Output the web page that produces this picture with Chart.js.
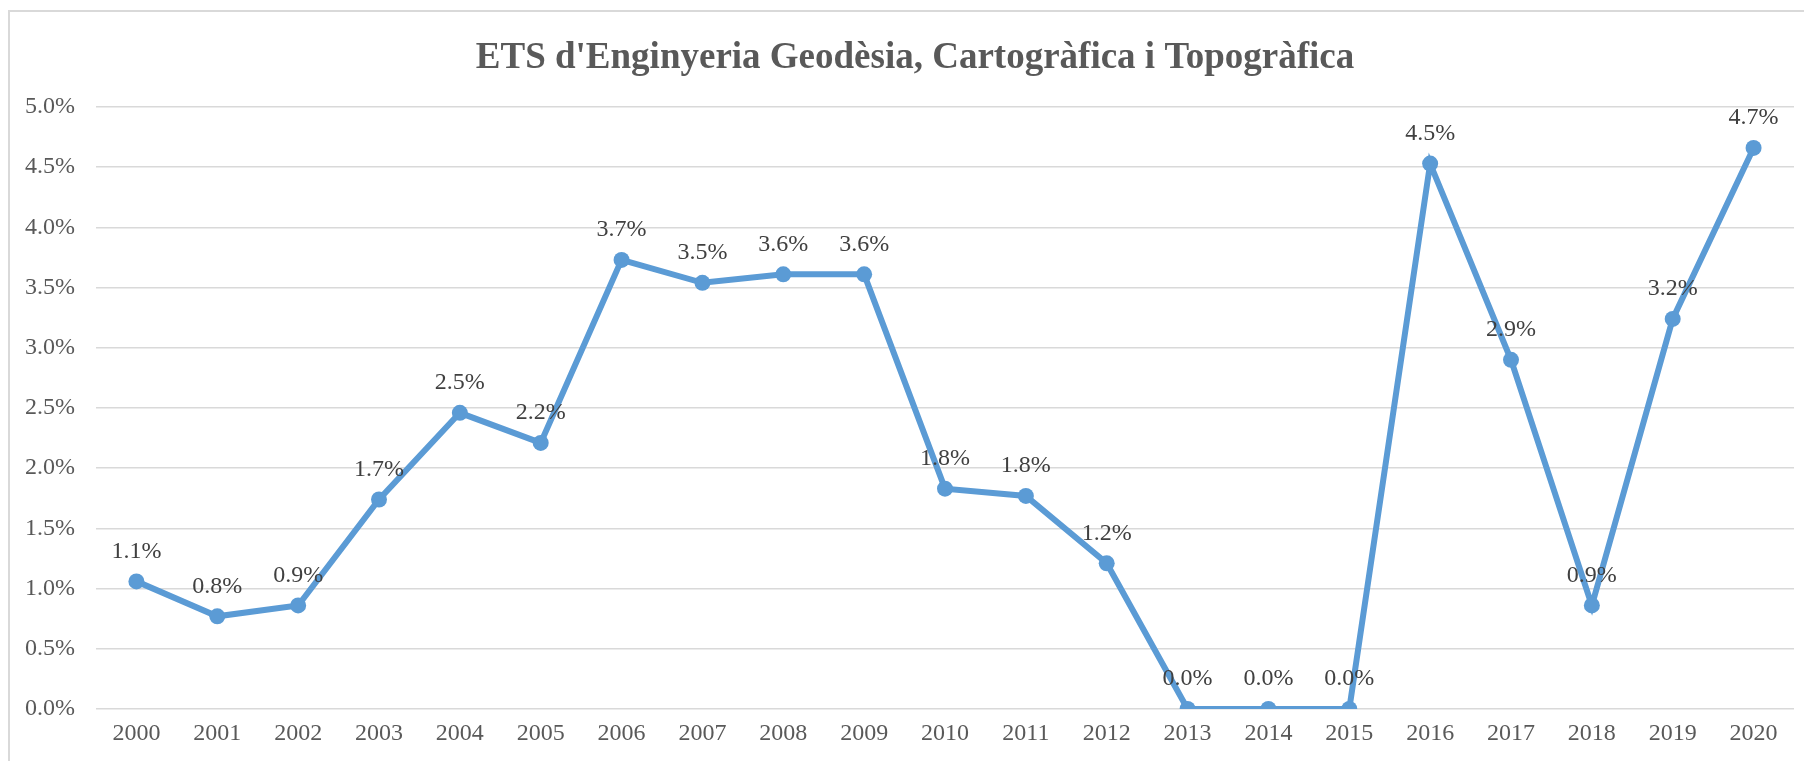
<!DOCTYPE html>
<html>
<head>
<meta charset="utf-8">
<title>ETS d'Enginyeria Geodèsia, Cartogràfica i Topogràfica</title>
<script src="https://cdn.jsdelivr.net/npm/chart.js@4/dist/chart.umd.min.js"></script>
<style>
    html, body { margin: 0; padding: 0; background: #fff; overflow: hidden; }
    #wrap { position: relative; width: 1804px; height: 761px; }
    #frame {
        position: absolute; left: 8px; top: 10px;
        width: 2000px; height: 1000px;
        border-left: 2px solid #d9d9d9; border-top: 2px solid #d9d9d9;
    }
    canvas { position: absolute; left: 0; top: 0; }
</style>
</head>
<body>
<div id="wrap">
    <div id="frame"></div>
    <canvas id="chart" width="1804" height="761"></canvas>
</div>
<script>
// Chart data (percent values)
const years = ['2000', '2001', '2002', '2003', '2004', '2005', '2006', '2007', '2008', '2009', '2010',
    '2011', '2012', '2013', '2014', '2015', '2016', '2017', '2018', '2019', '2020'];
const shares = [1.06, 0.77, 0.86, 1.74, 2.46, 2.21, 3.73, 3.54, 3.61, 3.61, 1.83,
    1.77, 1.21, 0, 0, 0, 4.53, 2.90, 0.86, 3.24, 4.66];
const yTicks = [0, 0.5, 1.0, 1.5, 2.0, 2.5, 3.0, 3.5, 4.0, 4.5, 5.0];

const chartTitle = "ETS d'Enginyeria Geodèsia, Cartogràfica i Topogràfica";
const serif = "'Liberation Serif', 'Times New Roman', serif";

// Value labels above each point
const pointLabels = {
    id: 'pointLabels',
    afterDatasetsDraw(chart) {
        const ctx = chart.ctx;
        const meta = chart.getDatasetMeta(0);
        ctx.save();
        ctx.font = '24px ' + serif;
        ctx.fillStyle = '#404040';
        ctx.textAlign = 'center';
        ctx.textBaseline = 'middle';
        meta.data.forEach((pt, i) => {
            ctx.fillText(shares[i].toFixed(1) + '%', pt.x, pt.y - 30);
        });
        ctx.restore();
    }
};

// Title sits a bit right of canvas centre in the original
const titleShift = {
    id: 'titleShift',
    afterLayout(chart) {
        if (chart.titleBlock) chart.titleBlock.left += 36;
    }
};

const ctx = document.getElementById('chart');
new Chart(ctx, {
    type: 'line',
    data: {
        labels: years,
        datasets: [{
            data: shares,
            borderColor: '#5b9bd5',
            backgroundColor: '#5b9bd5',
            borderWidth: 6,
            pointRadius: 8,
            pointBorderWidth: 0,
            pointBackgroundColor: '#5b9bd5',
            tension: 0
        }]
    },
    options: {
        responsive: false,
        animation: false,
        layout: { padding: { left: 0, right: 10, top: 0, bottom: 0 } },
        plugins: {
            legend: { display: false },
            tooltip: { enabled: false },
            title: {
                display: true,
                text: chartTitle,
                color: '#595959',
                font: { family: serif, size: 37, weight: 'bold' },
                padding: { top: 36, bottom: 26.6 }
            }
        },
        scales: {
            x: {
                offset: true,
                grid: { display: false, drawTicks: false },
                border: { display: false },
                ticks: {
                    color: '#595959',
                    font: { family: serif, size: 24 },
                    padding: 10,
                    maxRotation: 0,
                    autoSkip: false
                },
                afterFit: (s) => { s.height = 52; }
            },
            y: {
                min: 0,
                max: 5,
                grid: { color: '#d9d9d9', lineWidth: 1.5, drawTicks: false },
                border: { display: false },
                afterBuildTicks: (s) => { s.ticks = yTicks.map(v => ({ value: v })); },
                ticks: {
                    color: '#595959',
                    font: { family: serif, size: 24 },
                    padding: 21,
                    callback: (v) => Number(v).toFixed(1) + '%'
                },
                afterFit: (s) => { s.width = 96; }
            }
        }
    },
    plugins: [pointLabels, titleShift]
});
</script>
</body>
</html>
